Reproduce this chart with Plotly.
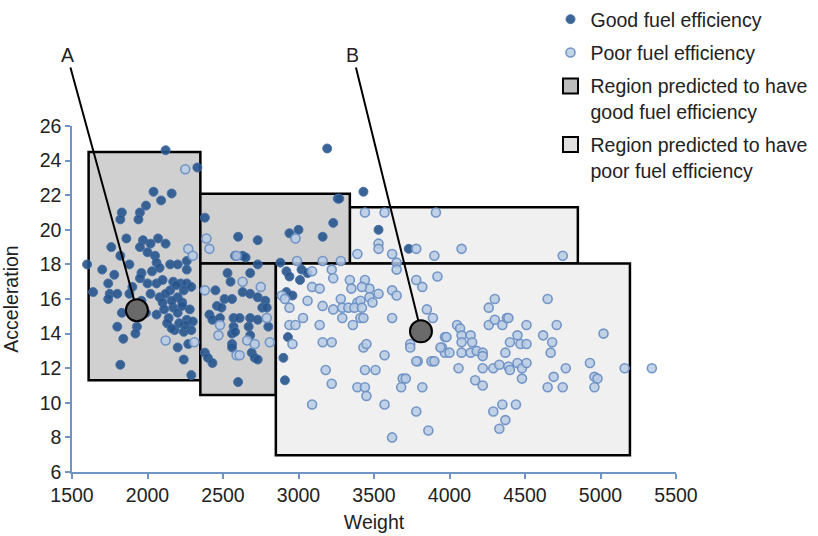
import plotly.graph_objects as go

# ---------------- data ----------------
good_weight = [2120, 2330, 2040, 2160, 2090, 1990, 1950, 1830, 1940, 1820, 1860, 1760, 1970, 2020, 2070, 2120,
               1950, 2000, 2050, 1820, 1600, 2060, 2080, 2150, 2200, 2260, 2260, 1780, 1960, 2000, 2060, 2100,
               2170, 2220, 2260, 1740, 1640, 1750, 1800, 1880, 2020, 2080, 2150, 2200, 2240, 2290, 1740, 2100,
               2170, 2230, 2280, 1830, 2060, 2140, 2200, 2260, 2300, 1800, 1930, 1920, 2130, 2180, 2240, 2290,
               1840, 2200, 2240, 1820, 2290, 2120, 2190, 2110, 2160, 2230, 2250, 2210, 2160, 2270, 1990, 1900,
               1950, 2030, 1880, 1700, 1960,
               2380, 2600, 2730, 2940, 3000, 3160, 3260, 3270, 3230, 2630, 2650, 2580, 2880, 2730, 3190, 3430,
               3530, 3730,
               2530, 2550, 2680, 2450, 2510, 2560, 2630, 2680, 2730, 2780, 2460, 2490, 2760, 2790, 2410, 2430,
               2480, 2570, 2610, 2680, 2730, 2800, 2570, 2670, 2680, 2560, 2580, 2560, 2560, 2690, 2710, 2730,
               2380, 2400, 2430, 2600,
               2920, 2940, 3010, 3020, 2920, 2960, 2930, 2900, 2910, 3060]
good_accel = [24.6, 23.6, 22.2, 22.1, 21.7, 21.4, 21.0, 21.0, 20.6, 20.6, 19.5, 19.0, 19.4, 19.2, 19.5, 19.2,
              19.0, 18.7, 18.5, 18.5, 18.0, 18.1, 17.8, 18.0, 18.0, 18.2, 17.7, 17.4, 17.5, 16.9, 16.9, 17.1,
              17.0, 16.9, 16.9, 16.9, 16.4, 16.3, 16.3, 16.3, 16.3, 16.1, 16.5, 16.1, 16.5, 16.7, 16.0, 15.8,
              15.5, 15.8, 15.4, 15.2, 15.1, 14.9, 15.2, 14.8, 14.7, 14.4, 14.4, 14.0, 14.6, 14.2, 14.1, 14.2,
              13.7, 13.2, 12.5, 12.2, 11.6, 16.3, 16.8, 15.4, 15.9, 15.6, 14.5, 14.6, 14.3, 13.4, 15.2, 16.7,
              17.2, 17.6, 18.0, 17.7, 15.9,
              20.7, 19.6, 19.4, 19.8, 20.0, 19.6, 21.8, 21.8, 20.4, 18.5, 18.4, 18.5, 18.1, 18.0, 24.7, 22.2,
              20.0, 18.9,
              17.5, 17.0, 17.5, 16.5, 16.0, 16.0, 16.4, 16.3, 16.1, 15.9, 15.6, 15.5, 15.5, 15.5, 15.1, 14.8,
              14.9, 14.9, 14.9, 14.9, 14.8, 14.4, 14.4, 14.4, 13.9, 14.0, 14.1, 13.4, 13.2, 12.9, 12.6, 12.5,
              12.9, 12.6, 12.3, 11.2,
              17.6, 17.3, 17.1, 17.7, 16.4, 16.2, 13.8, 12.6, 11.3, 17.5]

poor_weight = [2250, 2270, 2300, 2120, 2310, 2390, 2410, 2590, 2380, 2630, 2750, 2480, 2470, 2660, 2710, 2810,
               2590, 2610, 2790, 2890, 2910, 2940, 2980, 3060, 2960,
               3030, 2940, 2980, 3140, 3290, 3360, 3410, 3620,
               3090, 3620, 3860, 3780, 3820, 3220, 3180, 3440, 3510, 3390, 3440, 3450, 3690, 3710, 3680, 3570,
               3570, 3160, 3220, 3430, 3450, 3740, 3740, 3790, 3890, 3970, 3950, 3970,
               3440, 3570, 3910, 3530, 3530, 3390, 3620, 3780, 3900, 2990, 3160, 3280, 3650, 3650, 3090, 3220,
               3230, 3090, 3140, 3340, 3440, 3470, 3350, 3420, 3530, 3620, 3650, 3780, 3820, 3920, 3280, 3390,
               3410, 3470, 3490, 3160, 3230, 3290, 3330, 3370, 3420, 3430, 3850, 3890,
               4080, 4750, 4300, 4260, 4650, 4050, 4070, 4260, 4300, 4350, 4380, 4390, 4510, 4710, 3980, 4080,
               4140, 4080, 4150, 3940, 4000, 4080, 4140, 4180, 4220, 4220, 4400, 4450, 4470, 4510, 4370, 4620,
               4680, 4670, 5020, 4060, 4220, 4290, 4330, 4390, 4400, 4450, 4480, 4510, 4480, 4170, 4220, 4770,
               4930, 4690, 4650, 4750, 4960, 4980, 4960, 5160, 4350, 4440, 4290, 4370, 4330, 3780, 3880, 3900,
               5340]
poor_accel = [23.5, 18.9, 18.5, 13.6, 13.5, 19.5, 18.9, 18.5, 16.5, 17.0, 16.7, 14.5, 13.9, 13.6, 13.4, 13.5,
              12.75, 12.75, 14.9, 16.2, 16.0, 15.5, 19.5, 15.9, 13.4,
              14.9, 14.5, 14.5, 14.5, 14.9, 14.5, 14.9, 14.9,
              9.9, 8.0, 8.4, 9.5, 10.9, 11.1, 11.9, 11.9, 11.9, 10.9, 10.9, 10.4, 11.4, 11.4, 10.9, 9.9,
              12.75, 13.5, 13.5, 13.2, 13.4, 13.4, 13.2, 12.4, 12.4, 13.8, 13.2, 12.9,
              21.0, 21.0, 21.0, 19.2, 18.9, 18.6, 18.6, 18.9, 18.5, 18.2, 18.2, 18.2, 18.1, 17.7, 17.6, 17.7,
              17.2, 16.7, 16.6, 17.1, 17.1, 16.6, 16.6, 16.7, 16.3, 16.5, 16.2, 17.1, 16.7, 17.3, 16.0, 15.8,
              15.9, 16.1, 15.8, 15.6, 15.4, 15.5, 15.5, 15.5, 15.5, 14.9, 15.4, 14.9,
              18.9, 18.5, 16.0, 15.5, 16.0, 14.5, 14.3, 14.5, 14.8, 14.5, 14.9, 14.9, 14.5, 14.5, 13.8, 13.9,
              13.9, 13.5, 13.5, 13.2, 12.9, 12.9, 12.9, 13.0, 12.9, 12.7, 13.5, 13.9, 13.4, 13.4, 12.9, 13.9,
              13.5, 12.9, 14.0, 12.0, 12.0, 12.0, 12.2, 12.1, 11.9, 12.3, 12.0, 12.3, 11.4, 11.3, 11.0, 12.0,
              12.3, 11.5, 10.9, 10.9, 11.5, 11.4, 10.9, 12.0, 9.9, 9.9, 9.5, 9.0, 8.5, 12.4, 12.4, 12.4,
              12.0]

# decision regions: [x0, x1, y0, y1, class]
region_x0 = [3340, 1610, 2350, 2350, 2850]
region_x1 = [4850, 2350, 3340, 2850, 5195]
region_y0 = [18.05, 11.3, 18.05, 10.45, 6.97]
region_y1 = [21.3, 24.5, 22.08, 18.05, 18.05]
region_cls = ["poor", "good", "good", "good", "poor"]

# callouts
callout_labels = ["A", "B"]
callout_weight = [1930, 3811]
callout_accel = [15.35, 14.13]
callout_label_weight = [1467, 3360]
callout_label_accel = [30.1, 30.1]

x_ticks = [1500, 2000, 2500, 3000, 3500, 4000, 4500, 5000, 5500]
y_ticks = [6, 8, 10, 12, 14, 16, 18, 20, 22, 24, 26]

# ---------------- style ----------------
FONT = "Liberation Sans, Arial, Helvetica, sans-serif"
AXIS_BLUE = "#7095c4"
GOOD_FILL = "#d0d0d0"
POOR_FILL = "#f0f0f0"
FS = 19.5

fig = go.Figure()

fig.add_trace(go.Scatter(
    x=good_weight, y=good_accel, mode="markers", name="Good fuel efficiency",
    legendgroup="g1",
    marker=dict(size=9, color="rgba(38,84,140,0.9)", line=dict(color="rgba(70,110,165,0.9)", width=1)),
    cliponaxis=False,
))
fig.add_trace(go.Scatter(
    x=poor_weight, y=poor_accel, mode="markers", name="Poor fuel efficiency",
    legendgroup="g2",
    marker=dict(size=9, color="rgba(185,203,228,0.85)", line=dict(color="rgba(110,145,196,0.95)", width=1.6)),
    cliponaxis=False,
))
fig.add_trace(go.Scatter(
    x=[None], y=[None], mode="markers", name="Region predicted to have<br>good fuel efficiency",
    legendgroup="g3",
    marker=dict(symbol="square", size=15, color="#bdbdbd", line=dict(color="black", width=2)),
))
fig.add_trace(go.Scatter(
    x=[None], y=[None], mode="markers", name="Region predicted to have<br>poor fuel efficiency",
    legendgroup="g4",
    marker=dict(symbol="square", size=15, color="#e0e0e0", line=dict(color="black", width=2)),
))
fig.add_trace(go.Scatter(
    x=callout_weight, y=callout_accel, mode="markers", showlegend=False,
    marker=dict(size=22, color="#6a6a6a", line=dict(color="black", width=2)),
    cliponaxis=False,
))

for x0, x1, y0, y1, c in zip(region_x0, region_x1, region_y0, region_y1, region_cls):
    fig.add_shape(type="rect", xref="x", yref="y", x0=x0, x1=x1, y0=y0, y1=y1,
                  fillcolor=GOOD_FILL if c == "good" else POOR_FILL,
                  line=dict(color="black", width=2.5), layer="below")

for lab, px, py, lx, ly in zip(callout_labels, callout_weight, callout_accel,
                               callout_label_weight, callout_label_accel):
    fig.add_annotation(x=px, y=py, xref="x", yref="y", text=lab,
                       ax=lx, ay=ly, axref="x", ayref="y",
                       showarrow=True, arrowhead=0, arrowwidth=2, arrowcolor="black",
                       standoff=11, font=dict(size=FS, color="#222", family=FONT))

fig.update_layout(
    width=818, height=536,
    margin=dict(l=72, r=142, t=126, b=64, autoexpand=False),
    plot_bgcolor="white", paper_bgcolor="white",
    font=dict(family=FONT, size=FS, color="#222"),
    legend=dict(xref="container", yref="container", x=0.673, y=1.022,
                xanchor="left", yanchor="top", traceorder="grouped", tracegroupgap=5,
                valign="top", font=dict(size=FS, color="#222", family=FONT),
                bgcolor="rgba(0,0,0,0)"),
    xaxis=dict(range=[1500, 5500], tickvals=x_ticks, showgrid=False, zeroline=False,
               showline=True, linecolor=AXIS_BLUE, linewidth=1.5, ticks="outside",
               ticklen=5, tickcolor=AXIS_BLUE, tickwidth=1.5,
               title=dict(text="Weight", font=dict(size=FS), standoff=10),
               tickfont=dict(size=FS)),
    yaxis=dict(range=[6, 26], tickvals=y_ticks, showgrid=False, zeroline=False,
               showline=True, linecolor=AXIS_BLUE, linewidth=1.5, ticks="outside",
               ticklen=5, tickcolor=AXIS_BLUE, tickwidth=1.5,
               title=dict(text="Acceleration", font=dict(size=FS), standoff=16),
               tickfont=dict(size=FS)),
)

# remove the browser's default page margin so the figure sits at the window origin
fig.write_html("out.html", config={"displayModeBar": False},
               post_script="document.body.style.margin='0px';")
